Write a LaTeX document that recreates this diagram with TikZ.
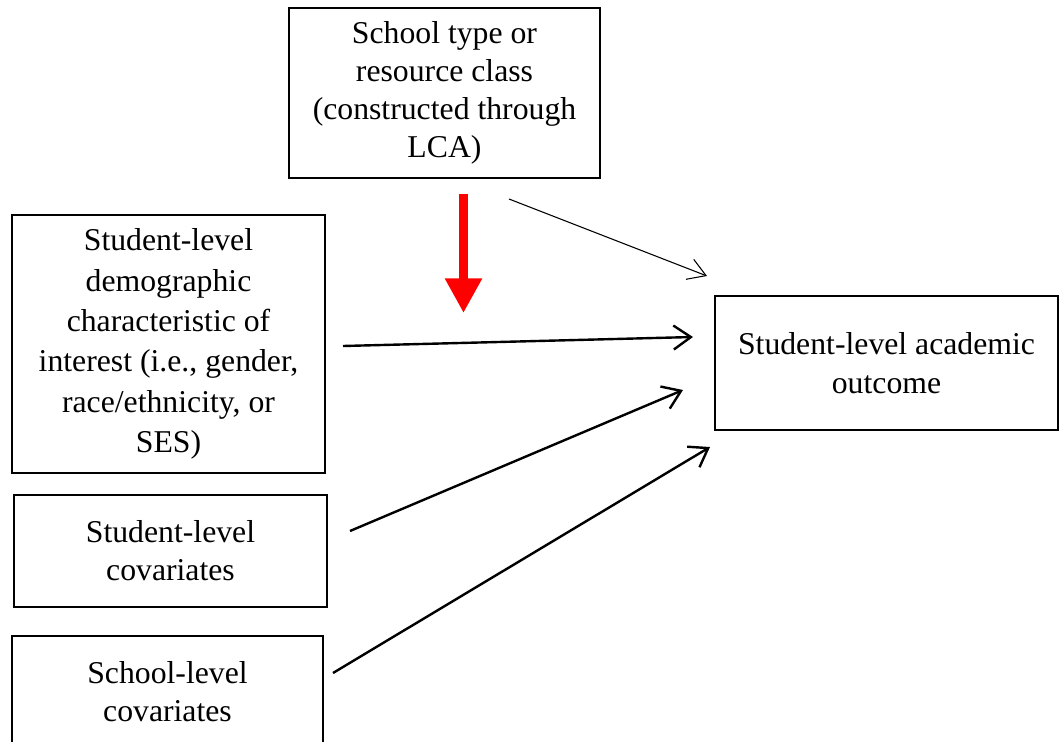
\documentclass[tikz,border=0pt]{standalone}
\usepackage{fontspec}
\setmainfont{Liberation Serif}
\usetikzlibrary{arrows.meta}
\tikzset{
  box/.style={draw=black, line width=1.5pt, rectangle, inner sep=0pt, align=center,
    font=\fontsize{23.8pt}{28.5pt}\selectfont},
  thinarrow/.style={line width=0.8pt, -{Straight Barb[length=13pt,width=16pt,line width=0.8pt]}},
  thickarrow/.style={line width=1.8pt, -{Straight Barb[length=13pt,width=18pt,line width=1.8pt]}},
  redarrow/.style={draw=red, line width=6.75pt, -{Triangle[length=26pt,width=26.25pt]}, fill=red}
}
\begin{document}
\begin{tikzpicture}[x=0.75pt,y=-0.75pt]
\useasboundingbox (0,0) rectangle (1060,742);
\begin{scope}
\clip (0,0) rectangle (1060,742);
\node[box, minimum width=233.25pt, minimum height=127.5pt] (school) at (444.5,93)
  {School type or\\resource class\\(constructed through\\LCA)};
\node[box, minimum width=234.75pt, minimum height=193.5pt,
  font=\fontsize{23.8pt}{30.3pt}\selectfont] (demo) at (168.5,344)
  {Student-level\\demographic\\characteristic of\\interest (i.e., gender,\\race/ethnicity, or\\SES)};
\node[box, minimum width=234.75pt, minimum height=84pt] (stucov) at (170.5,551)
  {Student-level\\covariates};
\node[box, minimum width=233.25pt, minimum height=84pt] (schcov) at (167.5,692)
  {School-level\\covariates};
\node[box, minimum width=257.25pt, minimum height=100.5pt, font=\fontsize{23.8pt}{29.3pt}\selectfont] (outcome) at (886.5,363)
  {Student-level academic\\outcome};
\end{scope}
% connector end points
\coordinate (s1) at (509,199);
\coordinate (e1) at (707,276);
\coordinate (s2) at (343,346);
\coordinate (e2) at (693,337);
\coordinate (s3) at (350,531);
\coordinate (e3) at (683,390);
\coordinate (s4) at (333,673);
\coordinate (e4) at (710,447);
\coordinate (rs) at (463.5,194);
\coordinate (re) at (463.5,313);
\draw[thinarrow] (s1) -- (e1);
\draw[thickarrow] (s2) -- (e2);
\draw[thickarrow] (s3) -- (e3);
\draw[thickarrow] (s4) -- (e4);
\draw[redarrow] (rs) -- (re);
\end{tikzpicture}
\end{document}
